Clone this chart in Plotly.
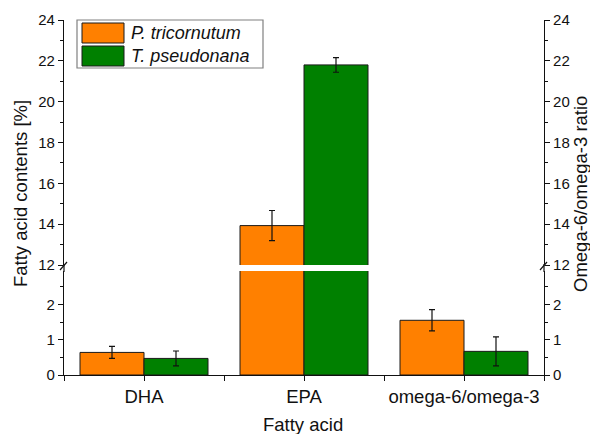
import plotly.graph_objects as go

# ---- data ----
categories = ["DHA", "EPA", "omega-6/omega-3"]
series_names = ["P. tricornutum", "T. pseudonana"]
p_tri_values = [0.64, 13.93, 1.55]
p_tri_errors = [0.17, 0.74, 0.30]
t_pse_values = [0.47, 21.80, 0.67]
t_pse_errors = [0.21, 0.36, 0.41]
upper_ticks = [12, 14, 16, 18, 20, 22, 24]
upper_minor = [13, 15, 17, 19, 21, 23]
lower_ticks = [0, 1, 2]
lower_minor = [0.5, 1.5, 2.5]

colors = ["#FF8000", "#008000"]
FONT = "Liberation Sans, Arial, sans-serif"

# ---- layout geometry (pixels) ----
W, H = 590, 434
L, R, T, B = 64, 46, 20, 59
PW, PH = W - L - R, H - T - B
y0_px = H - B            # pixel row of plot bottom
lower_top_px = 271
upper_bot_px = 265

def px_x(px):
    return (px - L) / PW

def px_y(py):
    return (y0_px - py) / PH

lower_dom = [0, px_y(lower_top_px)]
upper_dom = [px_y(upper_bot_px), 1]
lower_range = [0, (y0_px - lower_top_px) / 35.3]
upper_range = [12, 24]

xs = list(range(len(categories)))
fig = go.Figure()

series = [(p_tri_values, p_tri_errors), (t_pse_values, t_pse_errors)]
for yax in ["y", "y2"]:
    for i, (vals, errs) in enumerate(series):
        fig.add_trace(go.Bar(
            x=xs, y=vals, yaxis=yax, name=series_names[i],
            marker=dict(color=colors[i], line=dict(color="#1a1a1a", width=1)),
            error_y=dict(type="data", array=errs, color="#111111", thickness=1.2, width=3),
            showlegend=False, cliponaxis=True,
        ))

# invisible traces to show right-hand axes
fig.add_trace(go.Scatter(x=[None], y=[None], yaxis="y3", showlegend=False, hoverinfo="skip"))
fig.add_trace(go.Scatter(x=[None], y=[None], yaxis="y4", showlegend=False, hoverinfo="skip"))

tickfont_y = dict(family=FONT, size=15, color="#111")
axis_common = dict(showline=True, linecolor="#111", linewidth=1.2, ticks="outside",
                   ticklen=5, tickwidth=1, tickcolor="#111", showgrid=False,
                   zeroline=False, tickfont=tickfont_y)

fig.update_layout(
    width=W, height=H,
    margin=dict(l=L, r=R, t=T, b=B),
    paper_bgcolor="white", plot_bgcolor="white",
    barmode="group", bargap=0.2, bargroupgap=0,
    font=dict(family=FONT, color="#111"),
    xaxis=dict(range=[-0.5, 2.5], tickmode="array", tickvals=xs, ticktext=categories,
               showline=True, linecolor="#111", linewidth=1.2, ticks="outside",
               ticklen=5, tickcolor="#111", showgrid=False, zeroline=False,
               tickfont=dict(family=FONT, size=18.5, color="#111"),
               minor=dict(tickmode="array", tickvals=[-0.5, 0.5, 1.5, 2.5],
                          ticks="outside", ticklen=5, tickcolor="#111"),
               anchor="y"),
    yaxis=dict(domain=lower_dom, range=lower_range, tickmode="array", tickvals=lower_ticks,
               minor=dict(tickmode="array", tickvals=lower_minor, ticks="outside",
                          ticklen=3, tickcolor="#111"),
               anchor="x", **axis_common),
    yaxis2=dict(domain=upper_dom, range=upper_range, tickmode="array", tickvals=upper_ticks,
                minor=dict(tickmode="array", tickvals=upper_minor, ticks="outside",
                           ticklen=3, tickcolor="#111"),
                anchor="x", **axis_common),
    yaxis3=dict(overlaying="y", side="right", range=lower_range, tickmode="array",
                tickvals=lower_ticks, anchor="x",
                minor=dict(tickmode="array", tickvals=lower_minor, ticks="outside",
                           ticklen=3, tickcolor="#111"),
                **axis_common),
    yaxis4=dict(overlaying="y2", side="right", range=upper_range, tickmode="array",
                tickvals=upper_ticks, anchor="x",
                minor=dict(tickmode="array", tickvals=upper_minor, ticks="outside",
                           ticklen=3, tickcolor="#111"),
                **axis_common),
)

shapes = []
# fill axis gap and break marks on both sides
for ax_px in [L, L + PW]:
    shapes.append(dict(type="line", xref="paper", yref="paper",
                       x0=px_x(ax_px), x1=px_x(ax_px), y0=px_y(lower_top_px + 1), y1=px_y(upper_bot_px - 1),
                       line=dict(color="#111", width=1.2)))
    shapes.append(dict(type="line", xref="paper", yref="paper",
                       x0=px_x(ax_px - 4), x1=px_x(ax_px + 3), y0=px_y(270), y1=px_y(262),
                       line=dict(color="#111", width=1.2)))

# manual legend
lg_left, lg_right, lg_top, lg_bot = 77, 263, 20, 68
shapes.append(dict(type="rect", xref="paper", yref="paper",
                   x0=px_x(lg_left), x1=px_x(lg_right), y0=px_y(lg_bot), y1=px_y(lg_top),
                   line=dict(color="#808080", width=1.2), fillcolor="white"))
row_centers = [33, 56]
annotations = []
for i, name in enumerate(series_names):
    yc = row_centers[i]
    shapes.append(dict(type="rect", xref="paper", yref="paper",
                       x0=px_x(82), x1=px_x(124), y0=px_y(yc + 10), y1=px_y(yc - 10),
                       line=dict(color="#1a1a1a", width=1), fillcolor=colors[i]))
    annotations.append(dict(text="<i>" + name + "</i>", xref="paper", yref="paper",
                            x=px_x(129), y=px_y(yc), xanchor="left", yanchor="middle",
                            showarrow=False, font=dict(family=FONT, size=18, color="#111")))

# axis titles
annotations.append(dict(text="Fatty acid contents [%]", xref="paper", yref="paper",
                        x=px_x(20), y=px_y(194), textangle=-90, showarrow=False,
                        xanchor="center", yanchor="middle",
                        font=dict(family=FONT, size=18.5, color="#111")))
annotations.append(dict(text="Omega-6/omega-3 ratio", xref="paper", yref="paper",
                        x=px_x(580), y=px_y(194), textangle=-90, showarrow=False,
                        xanchor="center", yanchor="middle",
                        font=dict(family=FONT, size=18.5, color="#111")))
annotations.append(dict(text="Fatty acid", xref="paper", yref="paper",
                        x=px_x(303), y=px_y(424), showarrow=False,
                        xanchor="center", yanchor="middle",
                        font=dict(family=FONT, size=18.5, color="#111")))

fig.update_layout(shapes=shapes, annotations=annotations)
fig.write_html("out.html")
